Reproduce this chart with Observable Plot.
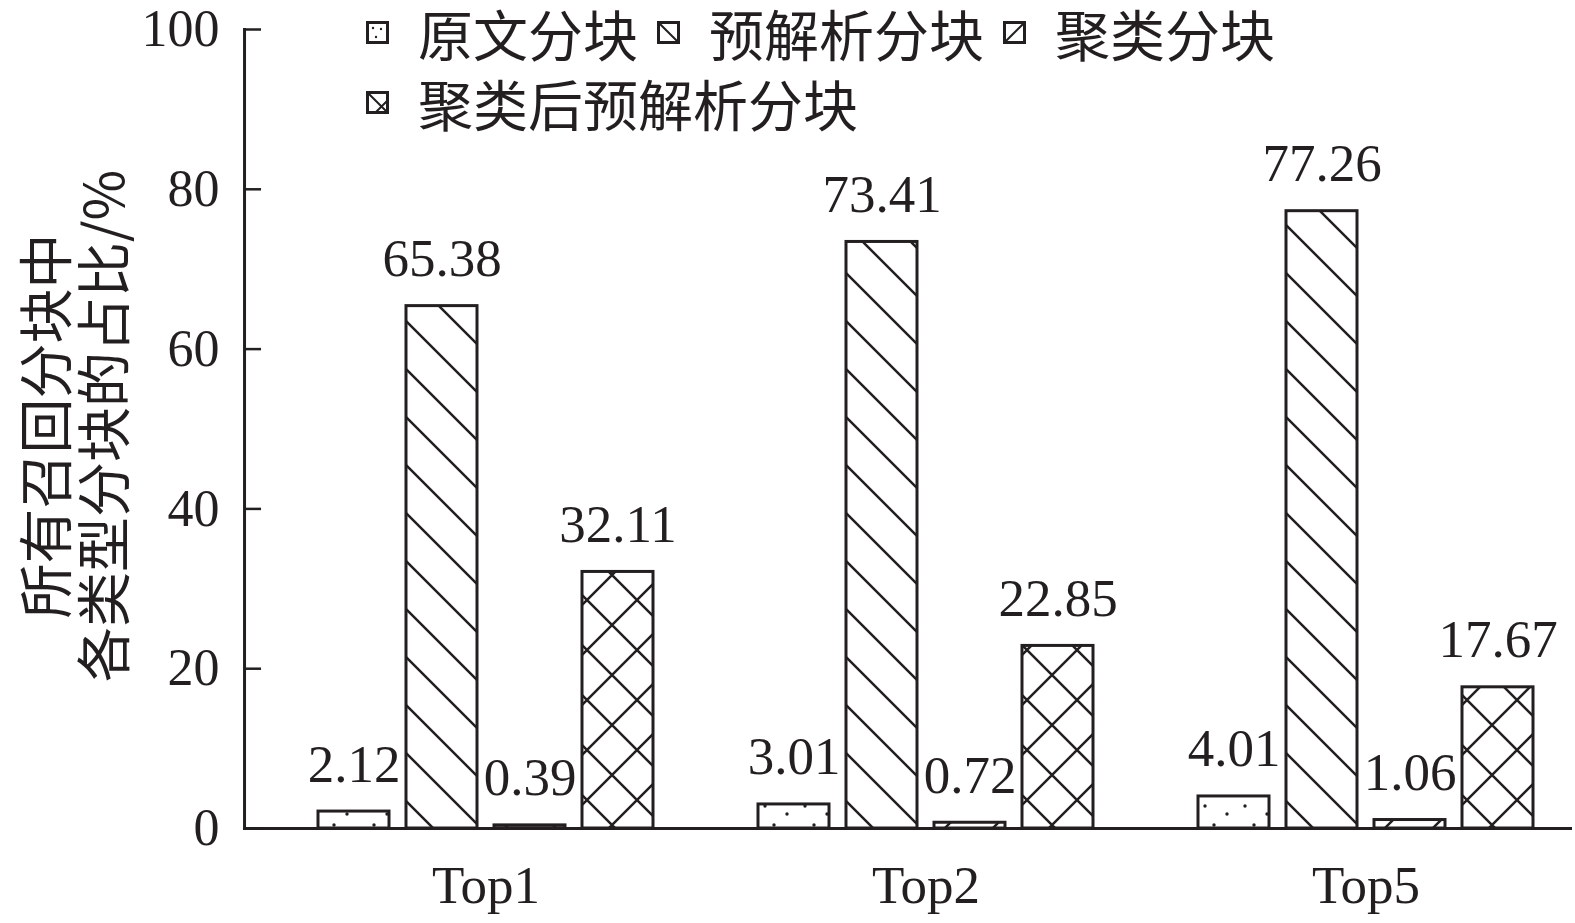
<!DOCTYPE html>
<html><head><meta charset="utf-8">
<script src="https://cdn.jsdelivr.net/npm/d3@7"></script>
<script src="https://cdn.jsdelivr.net/npm/@observablehq/plot@0.6"></script>
<style>
body{margin:0;background:#fff;}
#wrap{position:relative;width:1575px;height:923px;}
#legend{position:absolute;left:366px;top:0;width:935px;display:flex;flex-wrap:wrap;column-gap:19px;font-family:"Noto Sans CJK SC";font-size:55px;color:#231f20;line-height:1;}
.item{display:flex;align-items:center;height:64px;padding-bottom:6px;}
.item svg{margin-right:29px;flex:none;}
#ylabel{position:absolute;left:71px;top:426px;transform:translate(-50%,-50%) rotate(-90deg);font-family:"Noto Sans CJK SC";font-size:55px;line-height:58px;color:#231f20;text-align:center;white-space:pre;}
</style></head><body>
<svg width="0" height="0" style="position:absolute">
<defs>
<pattern id="p-dots" patternUnits="userSpaceOnUse" width="40" height="32">
<rect width="40" height="32" fill="#fff"/>
<circle cx="8" cy="6" r="1.7" fill="#231f20"/><circle cx="30" cy="14" r="1.7" fill="#231f20"/><circle cx="17" cy="25" r="1.7" fill="#231f20"/>
</pattern>
<pattern id="p-back" patternUnits="userSpaceOnUse" width="48" height="48">
<rect width="48" height="48" fill="#fff"/>
<path d="M0,0L48,48M-12,36L12,60M36,-12L60,12" stroke="#231f20" stroke-width="2.5"/>
</pattern>
<pattern id="p-fwd" patternUnits="userSpaceOnUse" width="48" height="48">
<rect width="48" height="48" fill="#fff"/>
<path d="M0,48L48,0M-12,12L12,-12M36,60L60,36" stroke="#231f20" stroke-width="2.5"/>
</pattern>
<pattern id="p-cross" patternUnits="userSpaceOnUse" width="50" height="50">
<rect width="50" height="50" fill="#fff"/>
<path d="M0,0L50,50M-12,38L12,62M38,-12L62,12M0,50L50,0M-12,12L12,-12M38,62L62,38" stroke="#231f20" stroke-width="2.5"/>
</pattern>
<pattern id="l-dots" patternUnits="userSpaceOnUse" width="23" height="23">
<rect width="23" height="23" fill="#fff"/>
<circle cx="7" cy="7" r="1.2" fill="#231f20"/><circle cx="15" cy="8" r="1.2" fill="#231f20"/><circle cx="10" cy="16" r="1.2" fill="#231f20"/>
</pattern>
<pattern id="l-back" patternUnits="userSpaceOnUse" width="23" height="23">
<rect width="23" height="23" fill="#fff"/><path d="M0,0L23,23" stroke="#231f20" stroke-width="2"/>
</pattern>
<pattern id="l-fwd" patternUnits="userSpaceOnUse" width="23" height="23">
<rect width="23" height="23" fill="#fff"/><path d="M0,23L23,0" stroke="#231f20" stroke-width="2"/>
</pattern>
<pattern id="l-cross" patternUnits="userSpaceOnUse" width="23" height="23">
<rect width="23" height="23" fill="#fff"/><path d="M0,0L23,23M8,23L23,8" stroke="#231f20" stroke-width="2"/>
</pattern>
</defs></svg>
<div id="wrap"><div id="legend"></div><div id="ylabel"></div></div>
<script>
const groups = ["Top1", "Top2", "Top5"];
const series = ["原文分块", "预解析分块", "聚类分块", "聚类后预解析分块"];
const valuesTop1 = [2.12, 65.38, 0.39, 32.11];
const valuesTop2 = [3.01, 73.41, 0.72, 22.85];
const valuesTop5 = [4.01, 77.26, 1.06, 17.67];
const yTicks = [0, 20, 40, 60, 80, 100];
const yLabelLines = ["所有召回分块中", "各类型分块的占比/%"];
const barPatterns = ["p-dots", "p-back", "p-fwd", "p-cross"];
const legendPatterns = ["l-dots", "l-back", "l-fwd", "l-cross"];

const valuesByGroup = [valuesTop1, valuesTop2, valuesTop5];
const data = groups.flatMap((g, gi) => series.map((s, si) => ({group: g, series: s, value: valuesByGroup[gi][si]})));
const fillOf = new Map(series.map((s, i) => [s, `url(#${barPatterns[i]})`]));
const ink = "#231f20";

const W = 1575, H = 923, mL = 244, mR = 5, mT = 29, mB = 95;
const fxOpts = {paddingInner: 0.0705, paddingOuter: 0.042, align: 1};
// offset from the first facet's left edge back to the frame's left edge (for the y axis)
const fxBand = d3.scaleBand(groups, [mL, W - mR]).paddingInner(fxOpts.paddingInner).paddingOuter(fxOpts.paddingOuter).align(fxOpts.align);
const axisShift = mL - fxBand(groups[0]);

const chart = Plot.plot({
  width: W, height: H,
  marginLeft: mL, marginRight: mR, marginTop: mT, marginBottom: mB,
  style: {fontFamily: "'Liberation Serif', 'Times New Roman', serif", fontSize: "53px", color: ink, background: "#fff", overflow: "visible"},
  fx: {domain: groups, ...fxOpts, axis: null, label: null},
  x: {domain: series, paddingInner: 0.1986, paddingOuter: 0.4074, axis: null},
  y: {domain: [0, 100], axis: null},
  color: {type: "identity"},
  marks: [
    Plot.barY(data, {fx: "group", x: "series", y: "value", fill: d => fillOf.get(d.series), stroke: ink, strokeWidth: 3}),
    Plot.text(data, {fx: "group", x: "series", y: "value", text: d => d.value.toFixed(2), lineAnchor: "bottom", dy: -30, fill: ink, fontSize: 53}),
    Plot.frame({anchor: "bottom", facet: "super", insetLeft: axisShift, stroke: ink, strokeWidth: 3}),
    Plot.frame({anchor: "left", facet: "super", dx: axisShift, stroke: ink, strokeWidth: 3}),
    Plot.axisY(yTicks, {anchor: "left", dx: axisShift, tickSize: -17, tickPadding: 42, stroke: ink, strokeWidth: 2.5, fill: ink, label: null, fontSize: 52}),
    Plot.axisFx({anchor: "bottom", tickSize: 0, tickPadding: 37, label: null, fontSize: 53, fill: ink})
  ]
});
const wrap = document.getElementById("wrap");
wrap.insertBefore(chart, wrap.firstChild);

document.getElementById("ylabel").textContent = yLabelLines.join("\n");

const legend = document.getElementById("legend");
series.forEach((s, i) => {
  const item = document.createElement("div");
  item.className = "item";
  item.innerHTML = `<svg width="23" height="23"><rect x="1.5" y="1.5" width="20" height="20" fill="url(#${legendPatterns[i]})" stroke="${ink}" stroke-width="3"/></svg><span>${s}</span>`;
  legend.appendChild(item);
});
</script>
</body></html>
